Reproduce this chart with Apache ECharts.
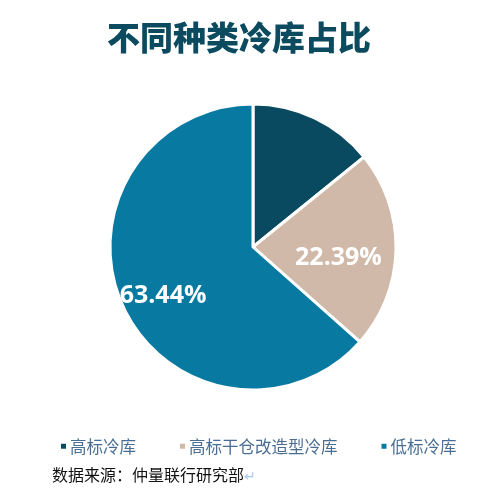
<!DOCTYPE html>
<html><head><meta charset="utf-8">
<script src="https://cdn.jsdelivr.net/npm/echarts@6/dist/echarts.min.js"></script>
<style>html,body{margin:0;padding:0;background:#fff}#c{width:496px;height:494px}</style>
</head><body><div id="c"></div>
<script>
const categories = ['高标冷库', '高标干仓改造型冷库', '低标冷库'];
const values = [14.17, 22.39, 63.44];
const colors = ['#0A4A60', '#D0B9A8', '#0879A0'];
const showLabel = [false, true, true];
const labelOffsets = [[0, 0], [11, 9], [-22, 18]];

const chart = echarts.init(document.getElementById('c'));
chart.setOption({
  animation: false,
  textStyle: { fontFamily: 'Noto Sans CJK SC' },
  title: {
    text: '不同种类冷库占比',
    left: 234, textAlign: 'center', top: 16,
    textStyle: { fontSize: 33, fontWeight: 900, color: '#0B4A5F', fontFamily: 'Noto Sans CJK SC' }
  },
  legend: {
    data: categories,
    left: 54, top: 433,
    icon: 'rect', itemWidth: 7, itemHeight: 7, itemGap: 42,
    textStyle: { fontSize: 16.5, color: '#4A6E93', fontFamily: 'Noto Sans CJK SC', padding: [0, 0, 0, -2] }
  },
  graphic: [
    { type: 'text', left: 52, top: 467, style: { text: '数据来源：仲量联行研究部', fontSize: 16, fill: '#111', fontFamily: 'Noto Sans CJK SC' } },
    { type: 'text', left: 244, top: 470, style: { text: '↵', fontSize: 14, fill: '#A9CBEA', fontFamily: 'DejaVu Sans' } }
  ],
  series: [{
    type: 'pie',
    center: [253, 247],
    radius: 143,
    startAngle: 90,
    clockwise: true,
    itemStyle: { borderColor: '#fff', borderWidth: 3 },
    label: {
      position: 'inside',
      formatter: p => p.value.toFixed(2) + '%',
      color: '#fff', fontSize: 25, fontWeight: 'bold', fontFamily: 'Open Sans'
    },
    labelLine: { show: false },
    data: categories.map((n, i) => ({
      name: n, value: values[i],
      itemStyle: { color: colors[i] },
      label: { show: showLabel[i], offset: labelOffsets[i] }
    }))
  }]
});
</script></body></html>
